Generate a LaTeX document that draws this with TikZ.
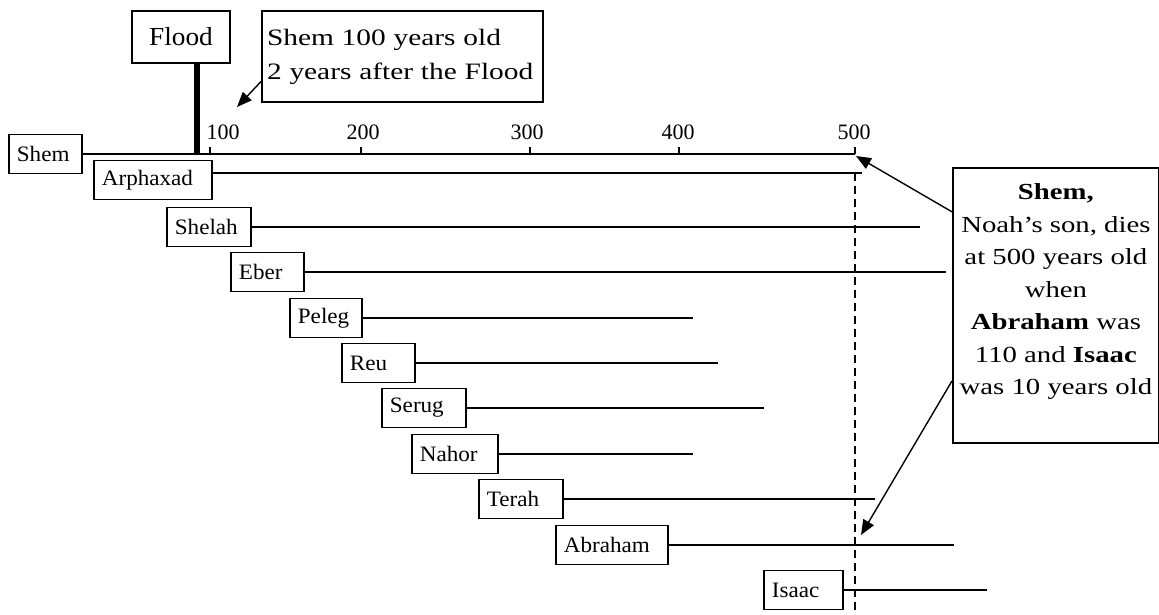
\documentclass[tikz,border=0pt]{standalone}
\usepackage{fontspec}
\setmainfont{Liberation Serif}
\newfontfamily\rowfamily[FakeStretch=1.05]{Liberation Serif}
\newfontfamily\widefamily[FakeStretch=1.25]{Liberation Serif}
\usetikzlibrary{arrows.meta}
\hyphenpenalty=10000
\newcommand{\RowFont}{\rowfamily\fontsize{22}{26}\selectfont}
\newcommand{\NoteFont}{\widefamily\fontsize{23.5}{34}\selectfont}
\newcommand{\InfoFont}{\widefamily\fontsize{23}{32.5}\selectfont}
\newcommand{\TickFont}{\rmfamily\fontsize{22}{24}\selectfont}
\newcommand{\FloodFont}{\rowfamily\fontsize{26}{30}\selectfont}

\begin{document}
\begin{tikzpicture}[x=1pt, y=-1pt, line width=1.8pt,
  rowbox/.style={draw, anchor=west, minimum height=39pt, inner xsep=8pt, align=left, font=\RowFont},
  notebox/.style={draw, minimum height=91pt, text width=271pt, inner xsep=5pt, align=left, font=\NoteFont},
  floodbox/.style={draw, minimum width=98pt, minimum height=52pt, font=\FloodFont},
  infobox/.style={draw, anchor=north west, minimum width=206pt, inner xsep=3pt, inner ysep=8pt, align=center, font=\InfoFont},
  ticklabel/.style={inner sep=0pt, font=\TickFont},
  arr/.style={-{Triangle[length=15pt,width=12pt]}, line width=1.4pt},
  deathline/.style={dash pattern=on 8pt off 5pt}]
  \useasboundingbox (0,0) rectangle (1159,615);
  \fill[white] (0,0) rectangle (1159,615);

  % generations
  \node[rowbox, text width=57pt]  (Shem)     at (8, 154)   {Shem};
  \node[rowbox, text width=102pt] (Arphaxad) at (93, 180)  {Arphaxad};
  \node[rowbox, text width=68pt]  (Shelah)   at (166, 227) {Shelah};
  \node[rowbox, text width=57pt]  (Eber)     at (230, 272) {Eber};
  \node[rowbox, text width=56pt]  (Peleg)    at (289, 318) {Peleg};
  \node[rowbox, text width=57pt]  (Reu)      at (341, 363) {Reu};
  \node[rowbox, text width=68pt]  (Serug)    at (381, 408) {Serug};
  \node[rowbox, text width=70pt]  (Nahor)    at (411, 454) {Nahor};
  \node[rowbox, text width=68pt]  (Terah)    at (478, 499) {Terah};
  \node[rowbox, text width=96pt]  (Abraham)  at (555, 545) {Abraham};
  \node[rowbox, text width=63pt]  (Isaac)    at (763, 590) {Isaac};

  % end of each life
  \coordinate (eShem)     at (855, 154);
  \coordinate (eArphaxad) at (862, 173);
  \coordinate (eShelah)   at (920, 227);
  \coordinate (eEber)     at (946, 272);
  \coordinate (ePeleg)    at (693, 318);
  \coordinate (eReu)      at (718, 363);
  \coordinate (eSerug)    at (764, 408);
  \coordinate (eNahor)    at (693, 454);
  \coordinate (eTerah)    at (875, 499);
  \coordinate (eAbraham)  at (954, 545);
  \coordinate (eIsaac)    at (987, 590);

  \draw (eShem -| Shem.east)         -- (eShem);
  \draw (eArphaxad -| Arphaxad.east) -- (eArphaxad);
  \draw (eShelah -| Shelah.east)     -- (eShelah);
  \draw (eEber -| Eber.east)         -- (eEber);
  \draw (ePeleg -| Peleg.east)       -- (ePeleg);
  \draw (eReu -| Reu.east)           -- (eReu);
  \draw (eSerug -| Serug.east)       -- (eSerug);
  \draw (eNahor -| Nahor.east)       -- (eNahor);
  \draw (eTerah -| Terah.east)       -- (eTerah);
  \draw (eAbraham -| Abraham.east)   -- (eAbraham);
  \draw (eIsaac -| Isaac.east)       -- (eIsaac);

  % scale of years
  \foreach \t in {210, 361, 530, 679, 855}
    \draw (\t, 147) -- (\t, 154);
  \node[ticklabel] (l100) at (223, 132) {100};
  \node[ticklabel] (l200) at (363, 132) {200};
  \node[ticklabel] (l300) at (527, 132) {300};
  \node[ticklabel] (l400) at (678, 132) {400};
  \node[ticklabel] (l500) at (854, 132) {500};

  % the flood
  \node[floodbox] (Flood) at (181, 37) {Flood};
  \coordinate (FloodFoot) at (197, 153);
  \draw[line width=6pt] (FloodFoot |- Flood.south) -- (FloodFoot);

  \node[notebox] (Note) at (402.5, 56.5) {Shem 100 years old\\2 years after the Flood};
  \coordinate (tipNote) at (237, 107);
  \draw[arr] (Note.190) -- (tipNote);

  % death of Shem
  \coordinate (dTop) at (855, 173);
  \coordinate (dBot) at (855, 615);
  \draw[deathline] (dTop) -- (dBot);

  \node[infobox] (Info) at (952, 167)
    {\rule{0pt}{24pt}\textbf{Shem,}\\Noah’s son, dies\\at 500 years old\\when\\\textbf{Abraham} was\\110 and \textbf{Isaac}\\was 10 years old\rule[-40pt]{0pt}{0pt}};
  \coordinate (tipShem)  at (856, 156);
  \coordinate (tipIsaac) at (861, 535);
  \draw[arr] (Info.138) -- (tipShem);
  \draw[arr] (Info.216) -- (tipIsaac);
\end{tikzpicture}
\end{document}
